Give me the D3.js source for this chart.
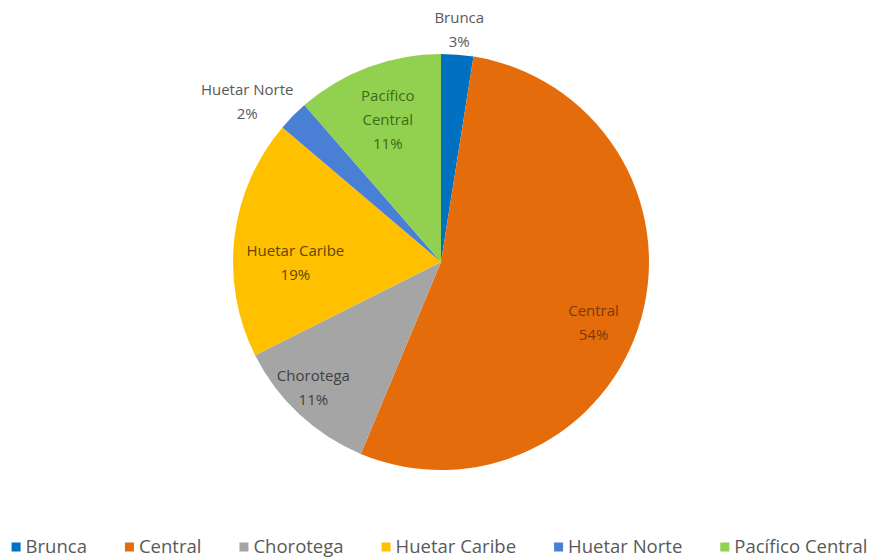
<!DOCTYPE html>
<html>
<head>
<meta charset="utf-8">
<script src="https://cdn.jsdelivr.net/npm/d3@7"></script>
<style>
  body { margin: 0; background: #fff; }
  text { font-family: "Open Sans", "Noto Sans", sans-serif; }
</style>
</head>
<body>
<svg id="pie" width="879" height="558"></svg>
<script>
const regions = ['Brunca', 'Central', 'Chorotega', 'Huetar Caribe', 'Huetar Norte', 'Pacífico Central'];
const shares = [2.5, 53.8, 11.3, 18.6, 2.4, 11.4];
const sliceColors = ['#0070C0', '#E46C0A', '#A5A5A5', '#FFC000', '#4A7FD6', '#92D050'];
const labelColors = ['#595959', '#7A3A06', '#404040', '#5E4600', '#595959', '#3E6B16'];

const data = regions.map((name, i) => ({ name, value: shares[i] }));

// where each label sits, as fraction of the radius (excel "best fit")
const labelRadius = { 'Brunca': 1.12, 'Central': 0.79, 'Chorotega': 0.86, 'Huetar Caribe': 0.70, 'Huetar Norte': 1.21, 'Pacífico Central': 0.73 };
const labelTurn = { 'Huetar Norte': -5, 'Central': 6, 'Chorotega': 2.5, 'Huetar Caribe': -7 };
// lines of each label
const labelLines = { 'Pacífico Central': ['Pacífico', 'Central'] };

const svg = d3.select('#pie');
const cx = 441, cy = 262, r = 208;

const color = d3.scaleOrdinal().domain(regions).range(sliceColors);
const textColor = d3.scaleOrdinal().domain(regions).range(labelColors);

const pie = d3.pie().value(d => d.value).sort(null);
const arc = d3.arc().innerRadius(0).outerRadius(r);
const arcs = pie(data);

const g = svg.append('g').attr('transform', `translate(${cx},${cy})`);

g.selectAll('path')
  .data(arcs)
  .enter()
    .append('path')
    .attr('d', arc)
    .attr('fill', d => color(d.data.name));

const labels = g.selectAll('text.lbl')
  .data(arcs)
  .enter()
    .append('text')
    .attr('class', 'lbl')
    .attr('text-anchor', 'middle')
    .attr('font-size', 15)
    .attr('fill', d => textColor(d.data.name))
    .attr('transform', d => {
      const a = (d.startAngle + d.endAngle) / 2 + (labelTurn[d.data.name] || 0) * Math.PI / 180;
      const k = labelRadius[d.data.name] * r;
      return `translate(${Math.sin(a) * k},${-Math.cos(a) * k})`;
    });

labels.each(function (d) {
  const lines = (labelLines[d.data.name] || [d.data.name]).concat([Math.round(d.data.value) + '%']);
  const t = d3.select(this);
  lines.forEach((s, i) => {
    t.append('tspan')
      .attr('x', 0)
      .attr('y', (i - (lines.length - 1) / 2) * 24)
      .attr('dy', '0.35em')
      .text(s);
  });
});

// legend
const legend = svg.append('g');
const gap = 38;
let lx = 0;
regions.forEach((name, i) => {
  const item = legend.append('g').attr('transform', `translate(${lx},0)`);
  item.append('rect')
    .attr('x', 0).attr('y', -4.5)
    .attr('width', 9).attr('height', 9)
    .attr('fill', color(name));
  const t = item.append('text')
    .attr('x', 14).attr('y', 0).attr('dy', '0.35em')
    .attr('font-size', 18.5)
    .attr('fill', '#595959')
    .text(name);
  lx += 14 + t.node().getComputedTextLength() + gap;
});
lx -= gap;
legend.attr('transform', `translate(${(879 - lx) / 2},547)`);
</script>
</body>
</html>
